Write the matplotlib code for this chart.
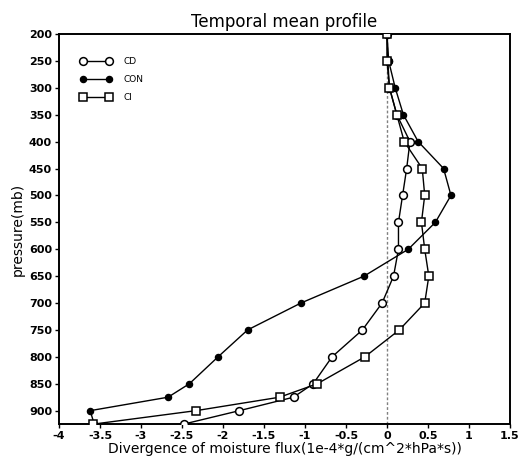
import matplotlib
matplotlib.use('Agg')
import matplotlib.pyplot as plt
import numpy as np

# 气压层 (mb)
pressure = [200, 250, 300, 350, 400, 450, 500, 550, 600, 650, 700, 750, 800, 850, 875, 900, 925]

cd = [0.0, 0.01, 0.03, 0.12, 0.28, 0.24, 0.19, 0.14, 0.14, 0.08, -0.06, -0.30, -0.67, -0.90, -1.14, -1.80, -2.48]
con = [0.0, 0.02, 0.10, 0.20, 0.38, 0.69, 0.78, 0.59, 0.26, -0.28, -1.05, -1.70, -2.06, -2.41, -2.67, -3.62, -3.57]
ci = [0.0, 0.0, 0.03, 0.12, 0.21, 0.43, 0.46, 0.42, 0.46, 0.51, 0.46, 0.15, -0.27, -0.85, -1.31, -2.33, -3.58]

xticks = np.arange(-4, 1.51, 0.5)
yticks = np.arange(200, 901, 50)

fig = plt.figure(figsize=(5.22, 4.59), dpi=100)
ax = fig.add_axes([0.113, 0.076, 0.864, 0.85])

ax.axvline(0, color='gray', linestyle=(0, (2, 1.5)), linewidth=1.0, zorder=1)

ax.plot(cd, pressure, color='black', linewidth=1, marker='o', markersize=5.6,
        markerfacecolor='white', markeredgecolor='black', markeredgewidth=1.1, label='CD', zorder=3)
ax.plot(con, pressure, color='black', linewidth=1, marker='o', markersize=4.4,
        markerfacecolor='black', markeredgecolor='black', label='CON', zorder=3)
ax.plot(ci, pressure, color='black', linewidth=1, marker='s', markersize=5.8,
        markerfacecolor='white', markeredgecolor='black', markeredgewidth=1.1, label='CI', zorder=4)

ax.set_xlim(-4, 1.5)
ax.set_ylim(925, 200)
ax.set_xticks(xticks)
ax.set_xticklabels(['%g' % v for v in xticks])
ax.set_yticks(yticks)

ax.tick_params(axis='both', direction='out', length=3, width=1, labelsize=8, pad=2)
for lab in ax.get_xticklabels() + ax.get_yticklabels():
    lab.set_fontweight('bold')
for sp in ax.spines.values():
    sp.set_linewidth(1.4)

ax.set_title('Temporal mean profile', fontsize=12, pad=5)
ax.set_xlabel('Divergence of moisture flux(1e-4*g/(cm^2*hPa*s))', fontsize=10, labelpad=1)
ax.set_ylabel('pressure(mb)', fontsize=10, labelpad=3)

ax.legend(loc='upper left', bbox_to_anchor=(0.03, 0.962), frameon=False, fontsize=6.5,
          numpoints=2, handlelength=3.4, labelspacing=1.0, handletextpad=1.4)

plt.savefig('out.png', dpi=100)
